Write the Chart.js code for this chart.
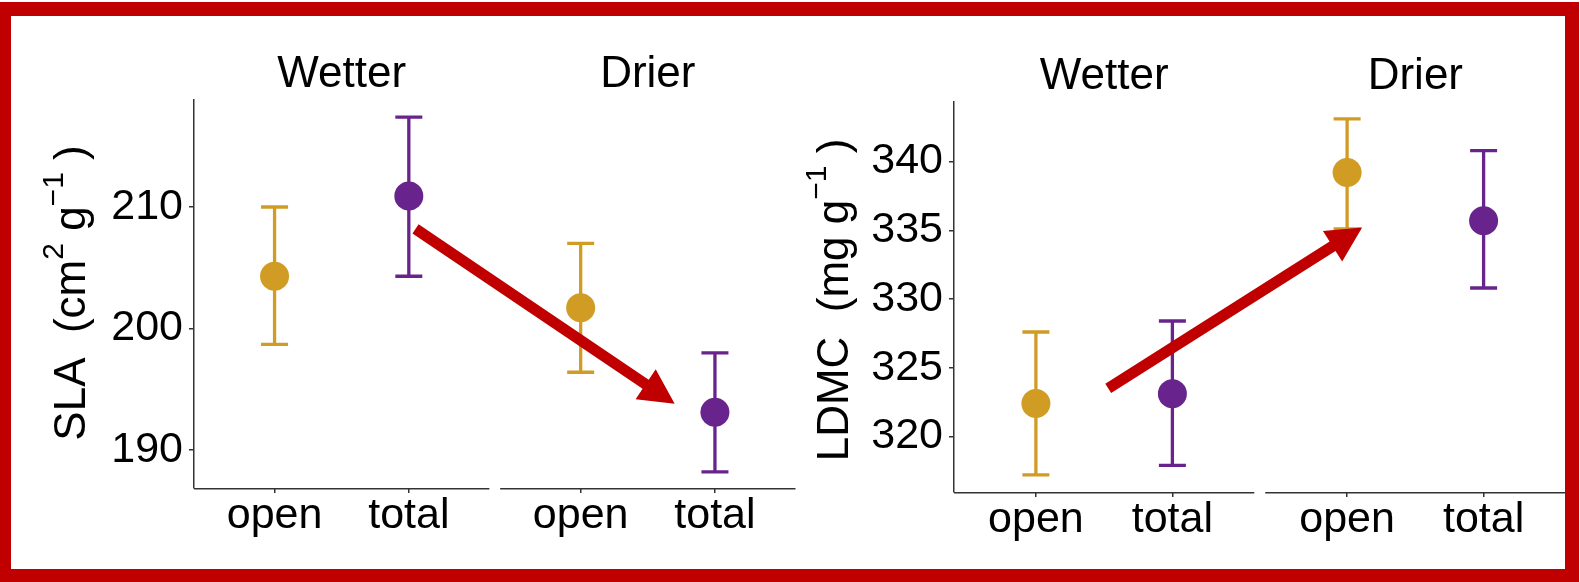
<!DOCTYPE html>
<html>
<head>
<meta charset="utf-8">
<script src="https://cdn.jsdelivr.net/npm/chart.js@4.4.0/dist/chart.umd.min.js"></script>
<style>
  html, body { margin: 0; padding: 0; background: #fff; }
  #wrap { position: relative; width: 1580px; height: 582px; overflow: hidden; background: #fff; }
  canvas { position: absolute; top: 0; }
  #frame { position: absolute; left: 0; top: 2px; width: 1579px; height: 580px; box-sizing: border-box;
           border-style: solid; border-color: #C00000; border-width: 14px 14px 13px 11px; pointer-events: none; }
</style>
</head>
<body>
<div id="wrap">
  <canvas id="slaChart" width="810" height="582" style="left:0px"></canvas>
  <canvas id="ldmcChart" width="800" height="582" style="left:780px"></canvas>
  <div id="frame"></div>
</div>
<script>
// facets and groups, point order: Wetter-open, Wetter-total, Drier-open, Drier-total
const facets = ['Wetter', 'Drier'];
const groups = ['open', 'total'];
const groupColors = ['#D09C24', '#68248C'];

const slaMean = [204.3, 210.9, 201.7, 193.1];
const slaLow = [198.7, 204.3, 196.4, 188.2];
const slaHigh = [210.0, 217.4, 207.0, 198.0];
const slaTicks = [190, 200, 210];

const ldmcMean = [322.4, 323.1, 339.2, 335.7];
const ldmcLow = [317.2, 317.9, 335.1, 330.8];
const ldmcHigh = [327.6, 328.4, 343.1, 340.8];
const ldmcTicks = [320, 325, 330, 335, 340];

// arrows in data units [x position, value]
const slaArrow = { from: [2.05, 208.2], to: [3.98, 193.8] };
const ldmcArrow = { from: [1.53, 323.5], to: [3.39, 335.2] };

const facetStep = 2.28;
const xPos = i => Math.floor(i / 2) * facetStep + (i % 2) + 1;
const tickPos = [0, 1, 2, 3].map(xPos);
const tickText = [0, 1, 2, 3].map(i => groups[i % 2]);

const FONT = '"Liberation Sans", Arial, sans-serif';
Chart.defaults.font.family = FONT;

function drawArrow(ctx, x1, y1, x2, y2) {
  const dx = x2 - x1, dy = y2 - y1, len = Math.hypot(dx, dy);
  const ux = dx / len, uy = dy / len, px = -uy, py = ux;
  const headLen = 35, headHalf = 18, shaft = 11;
  const bx = x2 - ux * headLen, by = y2 - uy * headLen;
  ctx.fillStyle = '#C00000';
  ctx.beginPath();
  ctx.moveTo(x1 + px * shaft / 2, y1 + py * shaft / 2);
  ctx.lineTo(bx + px * shaft / 2, by + py * shaft / 2);
  ctx.lineTo(bx + px * headHalf, by + py * headHalf);
  ctx.lineTo(x2, y2);
  ctx.lineTo(bx - px * headHalf, by - py * headHalf);
  ctx.lineTo(bx - px * shaft / 2, by - py * shaft / 2);
  ctx.lineTo(x1 - px * shaft / 2, y1 - py * shaft / 2);
  ctx.closePath();
  ctx.fill();
}

function decor(cfg) {
  return {
    id: 'decor',
    beforeDatasetsDraw(chart) {
      const ctx = chart.ctx, xs = chart.scales.x, ys = chart.scales.y;
      ctx.save();
      ctx.lineWidth = 3.3;
      cfg.low.forEach((lo, i) => {
        const px = xs.getPixelForValue(xPos(i));
        const y1 = ys.getPixelForValue(lo), y2 = ys.getPixelForValue(cfg.high[i]);
        ctx.strokeStyle = groupColors[i % 2];
        ctx.beginPath();
        ctx.moveTo(px, y1); ctx.lineTo(px, y2);
        ctx.moveTo(px - 13.5, y1); ctx.lineTo(px + 13.5, y1);
        ctx.moveTo(px - 13.5, y2); ctx.lineTo(px + 13.5, y2);
        ctx.stroke();
      });
      ctx.restore();
    },
    afterDraw(chart) {
      const ctx = chart.ctx, xs = chart.scales.x, ys = chart.scales.y, a = chart.chartArea;
      ctx.save();
      // x axis line per facet + strip labels
      ctx.strokeStyle = '#333';
      ctx.lineWidth = 1.5;
      ctx.fillStyle = '#000';
      ctx.font = '44px ' + FONT;
      ctx.textAlign = 'center';
      ctx.textBaseline = 'alphabetic';
      facets.forEach((f, k) => {
        const l = xs.getPixelForValue(k * facetStep + 0.4);
        const r = xs.getPixelForValue(k * facetStep + 2.6);
        ctx.beginPath();
        ctx.moveTo(l, a.bottom + 0.75); ctx.lineTo(r, a.bottom + 0.75);
        ctx.stroke();
        ctx.fillText(f, (l + r) / 2, a.top - 13);
      });
      // y title with superscripts
      ctx.translate(a.left - cfg.titleGap, (a.top + a.bottom) / 2 + cfg.titleShift);
      ctx.rotate(-Math.PI / 2);
      ctx.textAlign = 'left';
      const sizeOf = p => (p.sup ? 30 : 44);
      let total = 0;
      cfg.title.forEach(p => { ctx.font = sizeOf(p) + 'px ' + FONT; total += ctx.measureText(p.t).width; });
      let x = -total / 2;
      cfg.title.forEach(p => {
        ctx.font = sizeOf(p) + 'px ' + FONT;
        ctx.fillText(p.t, x, p.sup ? -22 : 0);
        x += ctx.measureText(p.t).width;
      });
      ctx.restore();
      // arrow
      ctx.save();
      drawArrow(ctx,
        xs.getPixelForValue(cfg.arrow.from[0]), ys.getPixelForValue(cfg.arrow.from[1]),
        xs.getPixelForValue(cfg.arrow.to[0]), ys.getPixelForValue(cfg.arrow.to[1]));
      ctx.restore();
    }
  };
}

function makePanel(id, cfg) {
  return new Chart(document.getElementById(id), {
    type: 'scatter',
    data: {
      datasets: [{
        data: cfg.mean.map((v, i) => ({ x: xPos(i), y: v })),
        backgroundColor: cfg.mean.map((v, i) => groupColors[i % 2]),
        borderWidth: 0,
        pointRadius: 14.5,
        pointHoverRadius: 14.5
      }]
    },
    options: {
      responsive: false,
      animation: false,
      devicePixelRatio: 1,
      layout: { padding: { left: 0, top: cfg.top, right: cfg.padRight, bottom: 0 } },
      plugins: { legend: { display: false }, tooltip: { enabled: false } },
      scales: {
        x: {
          type: 'linear',
          min: 0.4,
          max: facetStep + 2.6,
          afterBuildTicks: s => { s.ticks = tickPos.map(v => ({ value: v })); },
          afterFit: s => { s.height = cfg.xHeight; },
          ticks: {
            callback: (v, i) => tickText[i],
            autoSkip: false, maxRotation: 0,
            font: { size: 43 }, color: '#000', padding: -3
          },
          grid: { drawOnChartArea: false, drawTicks: true, tickLength: 5, color: '#333', lineWidth: 1.5 },
          border: { display: false }
        },
        y: {
          min: cfg.yMin,
          max: cfg.yMax,
          afterBuildTicks: s => { s.ticks = cfg.ticks.map(v => ({ value: v })); },
          afterFit: s => { s.width = cfg.yWidth; },
          ticks: { font: { size: 43 }, color: '#000', padding: 6 },
          grid: { drawOnChartArea: false, drawTicks: true, tickLength: 5, color: '#333', lineWidth: 1.5 },
          border: { display: true, color: '#333', width: 1.5 }
        }
      }
    },
    plugins: [decor(cfg)]
  });
}

makePanel('slaChart', {
  mean: slaMean, low: slaLow, high: slaHigh, ticks: slaTicks,
  yMin: 186.87, yMax: 218.81,
  top: 100, xHeight: 94, yWidth: 194, padRight: 6.7,
  titleGap: 109, titleShift: -1,
  title: [{ t: 'SLA  (cm' }, { t: '2', sup: true }, { t: ' g' }, { t: '\u22121', sup: true }, { t: ' )' }],
  arrow: slaArrow
});

makePanel('ldmcChart', {
  mean: ldmcMean, low: ldmcLow, high: ldmcHigh, ticks: ldmcTicks,
  yMin: 315.96, yMax: 344.33,
  top: 102, xHeight: 90, yWidth: 174, padRight: 14.5,
  titleGap: 106, titleShift: 3,
  title: [{ t: 'LDMC  (mg g' }, { t: '\u22121', sup: true }, { t: ' )' }],
  arrow: ldmcArrow
});
</script>
</body>
</html>
